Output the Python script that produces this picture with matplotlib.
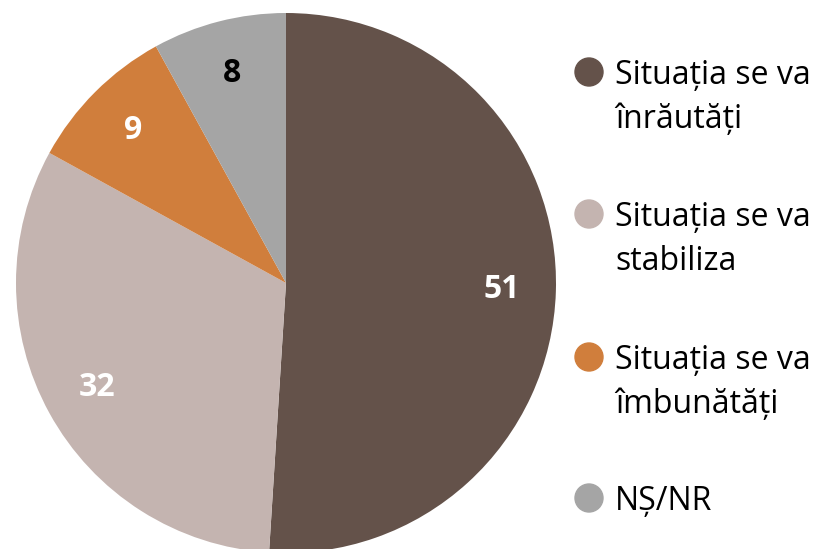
import matplotlib
matplotlib.use("Agg")
import matplotlib.pyplot as plt
from matplotlib.patches import Circle

categories = ["Situația se va\nînrăutăți", "Situația se va\nstabiliza",
              "Situația se va\nîmbunătăți", "NȘ/NR"]
values = [51, 32, 9, 8]
colors = ["#64524A", "#C4B4B0", "#D07E3C", "#A5A5A5"]
label_colors = ["white", "white", "white", "black"]

plt.rcParams['font.family'] = ['Open Sans', 'DejaVu Sans']

W, H = 818, 549
fig = plt.figure(figsize=(W / 100, H / 100), dpi=100)

# pie occupies a 540px square, slightly running off the bottom edge
ax = fig.add_axes([16 / W, -4 / H, 540 / W, 540 / H])
wedges, texts, autotexts = ax.pie(
    values, colors=colors, startangle=90, counterclock=False,
    radius=1, pctdistance=0.8,
    autopct=lambda p: f"{round(p * sum(values) / 100):d}",
    wedgeprops=dict(linewidth=0),
    textprops=dict(fontsize=23, fontweight='bold'))
for t, c in zip(autotexts, label_colors):
    t.set_color(c)
ax.set_xlim(-1, 1)
ax.set_ylim(-1, 1)
ax.set_aspect('equal')
ax.axis('off')

# legend entries: round marker plus label lines (pixel positions from top)
legend_y = [72, 214, 357, 498]
for y, lab, col in zip(legend_y, categories, colors):
    fig.patches.append(Circle((589 / 100, (H - y) / 100), 14 / 100, color=col,
                              transform=fig.dpi_scale_trans))
    for i, line in enumerate(lab.split("\n")):
        fig.text(615 / W, 1 - (y + 12 + 44 * i) / H, line, fontsize=23,
                 va='baseline', ha='left', color='black')

fig.savefig("out.png", dpi=100)
